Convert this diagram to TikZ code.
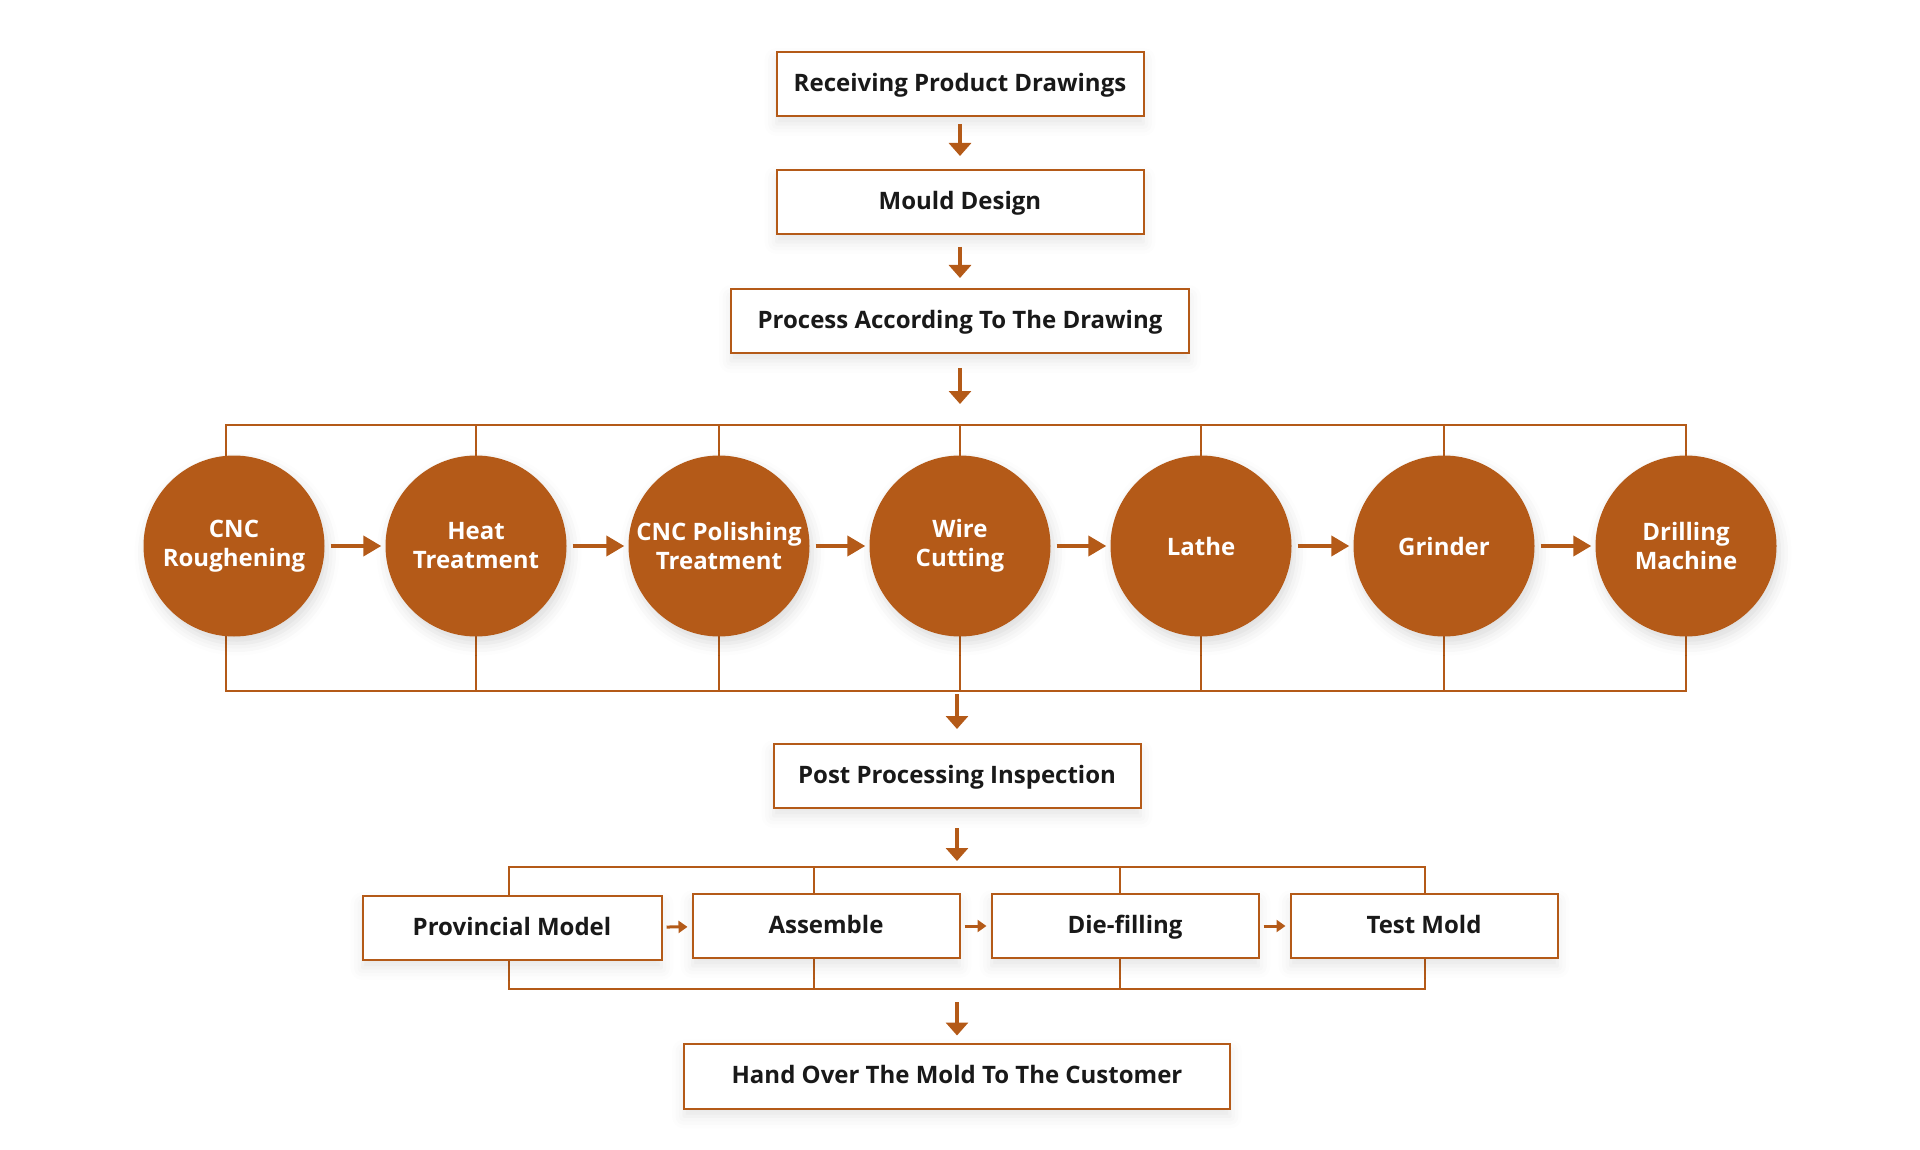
\documentclass[tikz,border=0pt]{standalone}
\usepackage{fontspec}
\setmainfont{Open Sans}
\usetikzlibrary{arrows.meta,shadows.blur}
\definecolor{rust}{HTML}{B45A18}
\tikzset{
	stepbox/.style={draw=rust, line width=2pt, fill=white, minimum height=64pt, inner sep=0pt,
		text height=20pt, text depth=5pt,
		font=\fontsize{24}{30}\selectfont\bfseries, text=black!90,
		blur shadow={shadow xshift=0pt, shadow yshift=-8pt, shadow blur radius=12pt, shadow opacity=10}},
	procball/.style={circle, fill=rust, minimum size=181pt, inner sep=0pt, text=white, align=center,
		font=\fontsize{24}{29}\selectfont\bfseries,
		blur shadow={shadow xshift=3pt, shadow yshift=-7pt, shadow blur radius=12pt, shadow opacity=14}},
	downarrow/.style={draw=rust, line width=4pt, -{Triangle[width=22pt,length=13pt]}},
	sidearrow/.style={draw=rust, line width=4pt, -{Triangle[width=20pt,length=18pt]}},
	smallarrow/.style={draw=rust, line width=3pt, -{Triangle[width=12pt,length=9pt]}},
	frameline/.style={draw=rust, line width=1.5pt},
}
\begin{document}
\begin{tikzpicture}[x=1pt, y=-1pt]
	\useasboundingbox (0,0) rectangle (1920,1150);

	% frames behind the stages
	\coordinate (ftl) at (226,425);
	\coordinate (fbr) at (1686,691);
	\draw[frameline] (ftl) rectangle (fbr);
	\foreach \x in {476,719,960,1201,1444}
		\draw[frameline] (\x,425) -- (\x,691);
	\coordinate (gtl) at (509,867);
	\coordinate (gbr) at (1425,989);
	\draw[frameline] (gtl) rectangle (gbr);
	\foreach \x in {814,1120}
		\draw[frameline] (\x,867) -- (\x,989);

	\node[stepbox, minimum width=367pt] (receive) at (960,84) {Receiving Product Drawings};
	\node[stepbox, minimum width=367pt] (design) at (960,202) {Mould Design};
	\node[stepbox, minimum width=458pt] (process) at (960,321) {Process According To The Drawing};

	\path (receive) edge[downarrow, shorten <=7pt, shorten >=13pt] (design);
	\path (design) edge[downarrow, shorten <=12pt, shorten >=10pt] (process);

	% machining stages
	\foreach \x/\name/\txt in {234/cnc/{CNC\\Roughening}, 476/heat/{Heat\\Treatment},
		719/polish/{CNC Polishing\\Treatment}, 960/wire/{Wire\\Cutting}, 1201/lathe/{Lathe},
		1444/grinder/{Grinder}, 1686/drill/{Drilling\\Machine}}
		\node[procball] (\name) at (\x,546) {\txt};

	\foreach \a/\b in {cnc/heat, heat/polish, polish/wire, wire/lathe, lathe/grinder, grinder/drill}
		\path (\a) edge[sidearrow, shorten <=6pt, shorten >=4pt] (\b);

	\coordinate (ftop) at (process |- ftl);
	\path (process) edge[downarrow, shorten <=14pt, shorten >=21pt] (ftop);

	\node[stepbox, minimum width=367pt] (inspect) at (957,776) {Post Processing Inspection};
	\coordinate (fbot) at (inspect |- fbr);
	\path (fbot) edge[downarrow, shorten <=3pt, shorten >=14pt] (inspect);

	% assembly stages
	\node[stepbox, minimum width=299pt] (trial) at (512,928) {Provincial Model};
	\node[stepbox, minimum width=267pt] (assemble) at (826,926) {Assemble};
	\node[stepbox, minimum width=267pt] (diefill) at (1125,926) {Die-filling};
	\node[stepbox, minimum width=267pt] (testmold) at (1424,926) {Test Mold};

	\path (trial) edge[smallarrow, shorten <=4pt, shorten >=4pt] (assemble);
	\path (assemble) edge[smallarrow, shorten <=4pt, shorten >=4pt] (diefill);
	\path (diefill) edge[smallarrow, shorten <=4pt, shorten >=4pt] (testmold);

	\coordinate (gtop) at (inspect |- gtl);
	\path (inspect) edge[downarrow, shorten <=19pt, shorten >=6pt] (gtop);

	\node[stepbox, minimum width=546pt, minimum height=65pt] (handover) at (957,1076) {Hand Over The Mold To The Customer};
	\coordinate (gbot) at (handover |- gbr);
	\path (gbot) edge[downarrow, shorten <=13pt, shorten >=7pt] (handover);
\end{tikzpicture}
\end{document}
